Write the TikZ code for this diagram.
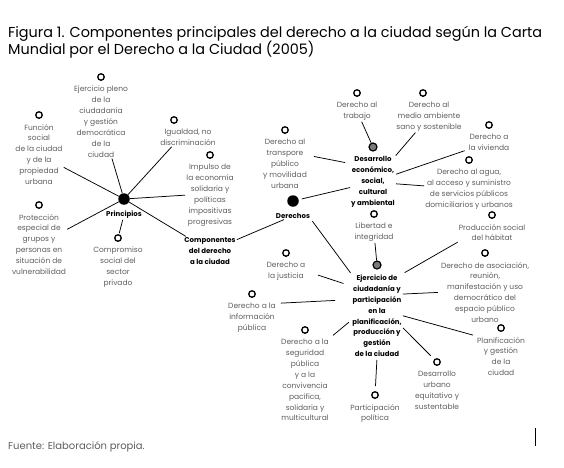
\documentclass[tikz,border=0pt]{standalone}
\usepackage{fontspec}
\setmainfont{Poppins}
\usepackage{tikz}
\usetikzlibrary{positioning}

\definecolor{grisTexto}{HTML}{5E5E5E}
\definecolor{grisPunto}{HTML}{7A7A7A}

\tikzset{
  hueco/.style={circle, draw, line width=1.3pt, fill=white, minimum size=6.5pt, inner sep=0pt},
  nodoGris/.style={circle, draw, line width=1.2pt, fill=grisPunto, minimum size=8pt, inner sep=0pt},
  centro/.style={circle, fill=black, minimum size=11.5pt, inner sep=0pt},
  etiqueta/.style={align=center, text=grisTexto, font=\fontsize{7.5}{10.9}\selectfont, inner sep=1pt},
  negrita/.style={align=center, font=\fontsize{7}{10.9}\selectfont\bfseries, inner sep=1pt},
  enlace/.style={line width=0.75pt},
}

\begin{document}
\begin{tikzpicture}[x=1pt, y=-1pt]
\useasboundingbox (0,0) rectangle (564,467);

% Titulo
\node[anchor=north west, align=left, inner sep=0pt, font=\fontsize{14.4}{17.5}\selectfont] (titulo) at (8,26)
  {Figura 1. Componentes principales del derecho a la ciudad según la Carta\\Mundial por el Derecho a la Ciudad (2005)};

% =================================================================
% PRINCIPIOS
% =================================================================
\node[centro] (hubP) at (124,199) {};
\node[negrita, below=5pt of hubP] (labP) {Principios};

\node[hueco] (m1) at (101,77) {};
\node[etiqueta, below=4pt of m1] (t1) {Ejercicio pleno\\de la\\ciudadanía\\y gestión\\democrática\\de la\\ciudad};
\node[hueco] (m2) at (39,115) {};
\node[etiqueta, below=4pt of m2] (t2) {Función\\social\\de la ciudad\\y de la\\propiedad\\urbana};
\node[hueco] (m3) at (39,205) {};
\node[etiqueta, below=4pt of m3] (t3) {Protección\\especial de\\grupos y\\personas en\\situación de\\vulnerabilidad};
\node[hueco] (m4) at (118,238) {};
\node[etiqueta, below=4pt of m4] (t4) {Compromiso\\social del\\sector\\privado};
\node[hueco] (m5) at (174,120) {};
\node[etiqueta, below=4pt of m5, xshift=14pt] (t5) {Igualdad, no\\discriminación};
\node[hueco] (m6) at (210,155) {};
\node[etiqueta, below=4pt of m6] (t6) {Impulso de\\la economía\\solidaria y\\políticas\\impositivas\\progresivas};

\node[negrita] (comp) at (210,251) {Componentes\\del derecho\\a la ciudad};

\draw[enlace] (hubP) -- (t1);
\draw[enlace] (hubP) -- (t2);
\draw[enlace] (hubP) -- (t3);
\draw[enlace, shorten >=1pt] (labP) -- (m4);
\draw[enlace] (hubP) -- (t5.-150);
\draw[enlace] (hubP) -- (t6.west);
\draw[enlace] (hubP) -- (comp);

% =================================================================
% DERECHOS
% =================================================================
\node[centro] (hubD) at (293,201) {};
\node[negrita, below=5pt of hubD] (labD) {Derechos};
\draw[enlace] (comp) -- (labD);

\node[hueco] (mO) at (285,130) {};
\node[etiqueta, below=4pt of mO] (tO) {Derecho al\\transpore\\público\\y movilidad\\urbana};

% Desarrollo economico
\node[nodoGris] (mDes) at (373,147) {};
\node[negrita, below=4pt of mDes] (tDes) {Desarrollo\\económico,\\social,\\cultural\\y ambiental};

\node[hueco] (mA) at (357,93) {};
\node[etiqueta, below=4pt of mA] (tA) {Derecho al\\trabajo};
\node[hueco] (mB) at (423,93) {};
\node[etiqueta, below=4pt of mB, xshift=6pt] (tB) {Derecho al\\medio ambiente\\sano y sostenible};
\node[hueco] (mC) at (489,125) {};
\node[etiqueta, below=4pt of mC] (tC) {Derecho a\\la vivienda};
\node[hueco] (mE) at (469,160) {};
\node[etiqueta, below=4pt of mE] (tE) {Derecho al agua,\\al acceso y suministro\\de servicios públicos\\domiciliarios y urbanos};
\node[hueco] (mF) at (374,214) {};
\node[etiqueta, below=4pt of mF] (tF) {Libertad e\\integridad};

% Ejercicio de ciudadania
\node[nodoGris] (mEje) at (377,265) {};
\node[negrita, below=4pt of mEje] (tEje) {Ejercicio de\\ciudadanía y\\participación\\en la\\planificación,\\producción y\\gestión\\de la ciudad};

\node[hueco] (mG) at (492,215) {};
\node[etiqueta, below=4pt of mG] (tG) {Producción social\\del hábitat};
\node[hueco] (mH) at (485,253) {};
\node[etiqueta, below=4pt of mH] (tH) {Derecho de asociación,\\reunión,\\manifestación y uso\\democrático del\\espacio público\\urbano};
\node[hueco] (mI) at (501,328) {};
\node[etiqueta, below=4pt of mI] (tI) {Planificación\\y gestión\\de la\\ciudad};
\node[hueco] (mJ) at (437,362) {};
\node[etiqueta, below=4pt of mJ] (tJ) {Desarrollo\\urbano\\equitativo y\\sustentable};
\node[hueco] (mK) at (375,395) {};
\node[etiqueta, below=4pt of mK] (tK) {Participación\\política};
\node[hueco] (mL) at (305,330) {};
\node[etiqueta, below=4pt of mL] (tL) {Derecho a la\\seguridad\\pública\\y a la\\convivencia\\pacífica,\\solidaria y\\multicultural};
\node[hueco] (mM) at (252,294) {};
\node[etiqueta, below=4pt of mM] (tM) {Derecho a la\\información\\pública};
\node[hueco] (mN) at (286,253) {};
\node[etiqueta, below=4pt of mN] (tN) {Derecho a\\la justicia};

% Conectores de Derechos
\draw[enlace, shorten <=3pt] (hubD) -- (tDes);
\draw[enlace, shorten <=2pt, shorten >=1pt] (labD.south east) -- (tEje.north west);
\draw[enlace, shorten <=6pt, shorten >=5pt] (tO.20) -- (tDes.141);
\draw[enlace] (tA) -- (mDes);
\draw[enlace] (tB) -- (tDes);
\draw[enlace, shorten >=3pt] (tDes) -- (tC);
\draw[enlace] (tDes) -- (tE);
\draw[enlace] (tF) -- (mEje);
\draw[enlace, shorten <=2pt] (tEje.north east) -- (tG.south west);
\draw[enlace, shorten >=2pt] (tEje.40) -- (tH.west);
\draw[enlace, shorten >=3pt] (tEje.east) -- (tI.north west);
\draw[enlace, shorten >=5pt] (tEje.-25) -- (mJ);
\draw[enlace, shorten <=2pt, shorten >=5pt] (tEje.south) -- (mK);
\draw[enlace, shorten <=3pt, shorten >=4pt] (tEje.190) -- (tL.north east);
\draw[enlace, shorten <=16pt, shorten >=4pt] (tEje.148) -- (tM.30);
\draw[enlace, shorten <=12pt, shorten >=8pt] (tN.east) -- (tEje.131);

% Fuente
\node[anchor=base west, inner sep=0pt, text=grisTexto, font=\fontsize{10}{12}\selectfont] (fuente) at (8,449) {Fuente: Elaboración propia.};
\draw[line width=0.8pt] (535,428) -- (535,446);

\end{tikzpicture}
\end{document}
